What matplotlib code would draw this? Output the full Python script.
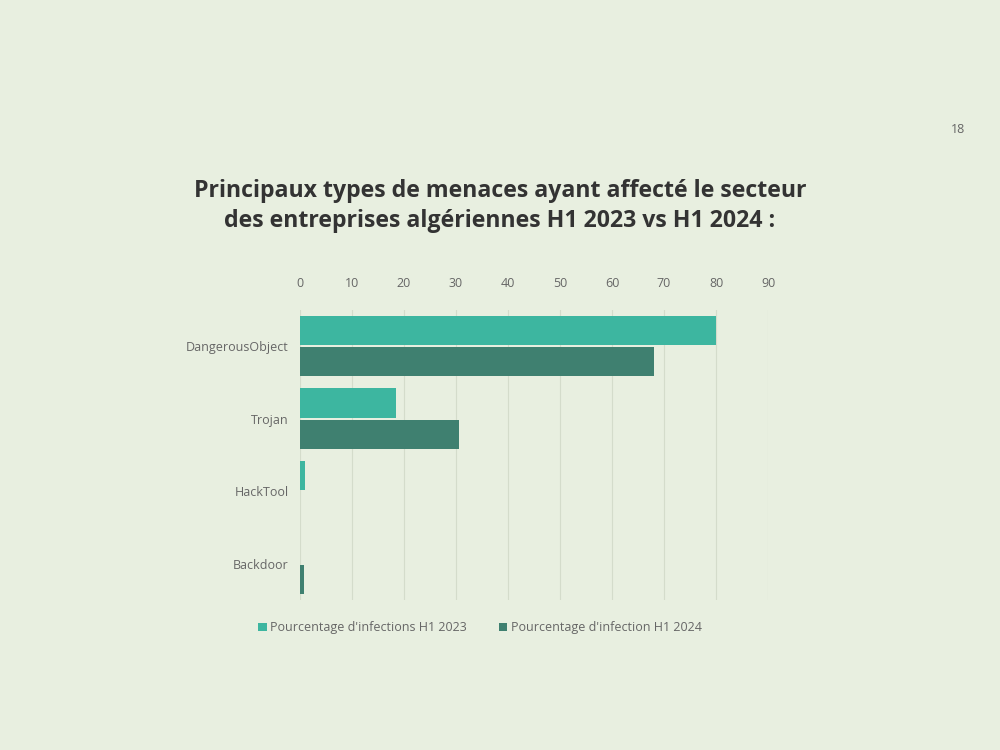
import matplotlib
matplotlib.use("Agg")
import matplotlib.pyplot as plt
import numpy as np

categories = ["DangerousObject", "Trojan", "HackTool", "Backdoor"]
values_2023 = [80, 18.5, 1, 0]
values_2024 = [68, 30.5, 0, 0.7]
series_labels = ["Pourcentage d'infections H1 2023", "Pourcentage d'infection H1 2024"]
xticks = [0, 10, 20, 30, 40, 50, 60, 70, 80, 90]
title = "Principaux types de menaces ayant affecté le secteur\ndes entreprises algériennes H1 2023 vs H1 2024 :"

c2023 = "#3db6a0"
c2024 = "#3f8070"
bg = "#e8efe0"
txt = "#666666"

plt.rcParams['font.family'] = ['Open Sans', 'DejaVu Sans']

fig = plt.figure(figsize=(10, 7.5), dpi=100, facecolor=bg)
ax = fig.add_axes([0.30, 0.20, 0.468, 0.387], facecolor=bg)

y = np.arange(len(categories))
h = 0.40
off = 0.215
ax.barh(y - off, values_2023, height=h, color=c2023, label=series_labels[0], zorder=3)
ax.barh(y + off, values_2024, height=h, color=c2024, label=series_labels[1], zorder=3)

ax.set_xlim(0, 90)
ax.set_ylim(3.5, -0.5)
ax.set_xticks(xticks)
ax.xaxis.tick_top()
ax.tick_params(axis='x', length=0, labelsize=9, labelcolor=txt, pad=14)
ax.set_yticks(y)
ax.set_yticklabels(categories)
ax.tick_params(axis='y', length=0, labelsize=9, labelcolor=txt, pad=8)
ax.grid(axis='x', color="#d4dccb", linewidth=0.8, zorder=0)
for s in ax.spines.values():
    s.set_visible(False)

fig.legend(loc='center', bbox_to_anchor=(0.48, 0.163), ncol=2, frameon=False,
           fontsize=9, handlelength=0.7, handleheight=0.7, handletextpad=0.3,
           columnspacing=2.5, labelcolor=txt)

fig.text(0.5, 0.725, title, ha='center', va='center', fontsize=16.7,
         fontweight='bold', color="#333333", linespacing=1.35)
fig.text(0.958, 0.827, "18", ha='center', va='center', fontsize=9, color=txt)

fig.savefig("out.png", dpi=100, facecolor=bg)
